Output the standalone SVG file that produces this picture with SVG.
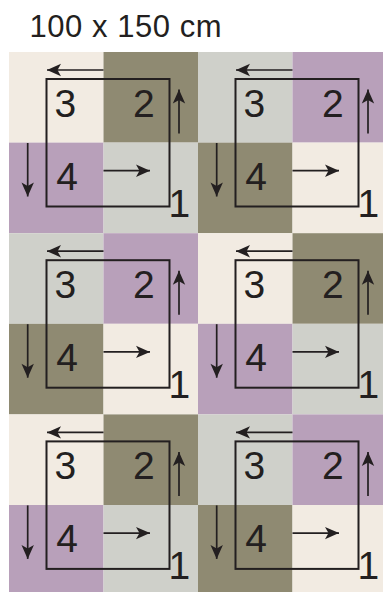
<svg xmlns="http://www.w3.org/2000/svg" width="383" height="592" viewBox="0 0 383 592">
<style>
.cr{fill:#F2EBE2}.ol{fill:#8F8A72}.gr{fill:#CFD0CA}.pu{fill:#B8A0BA}
.sq{fill:none;stroke:#231F20;stroke-width:2}
.num{font-family:"Liberation Sans",Arial,sans-serif;font-size:39px;fill:#231F20}
.title{font-family:"Liberation Sans",Arial,sans-serif;font-size:31px;fill:#231F20}
.arr{fill:none;stroke:#231F20;stroke-width:1.7;marker-end:url(#ah)}
</style>
<defs>
<marker id="ah" markerUnits="userSpaceOnUse" markerWidth="16" markerHeight="14" viewBox="-15 -7 16 14" refX="0" refY="0" orient="auto">
<path d="M0,0 L-14,-6.2 L-10.5,0 L-14,6.2 Z" fill="#231F20"/>
</marker>
<g id="overlay">
<rect class="sq" x="37.5" y="27" width="123" height="127.5"/>
<text class="num" x="45.5" y="64.5">3</text>
<text class="num" x="124" y="64.5">2</text>
<text class="num" x="47.3" y="138">4</text>
<text class="num" x="159.5" y="165">1</text>
</g>
<g id="arrows">
<path class="arr" d="M94.5,18 H38"/>
<path class="arr" d="M170,81.5 V37.5"/>
<path class="arr" d="M18.7,91 V144.5"/>
<path class="arr" d="M94.5,118.7 H141"/>
</g>
</defs>
<text class="title" x="29.5" y="37.3" textLength="192">100 x 150 cm</text>
<g id="block1" transform="translate(9,52)">
<rect class="cr" x="0" y="0" width="94.5" height="90.6"/><rect class="ol" x="94.5" y="0" width="94.5" height="90.6"/>
<rect class="pu" x="0" y="90.6" width="94.5" height="90.6"/><rect class="gr" x="94.5" y="90.6" width="94.5" height="90.6"/>
<use href="#overlay"/>
</g>
<g id="block2" transform="translate(198,52)">
<rect class="gr" x="0" y="0" width="94.5" height="90.6"/><rect class="pu" x="94.5" y="0" width="94.5" height="90.6"/>
<rect class="ol" x="0" y="90.6" width="94.5" height="90.6"/><rect class="cr" x="94.5" y="90.6" width="94.5" height="90.6"/>
<use href="#overlay"/>
</g>
<g id="block3" transform="translate(9,233.2)">
<rect class="gr" x="0" y="0" width="94.5" height="90.6"/><rect class="pu" x="94.5" y="0" width="94.5" height="90.6"/>
<rect class="ol" x="0" y="90.6" width="94.5" height="90.6"/><rect class="cr" x="94.5" y="90.6" width="94.5" height="90.6"/>
<use href="#overlay"/>
</g>
<g id="block4" transform="translate(198,233.2)">
<rect class="cr" x="0" y="0" width="94.5" height="90.6"/><rect class="ol" x="94.5" y="0" width="94.5" height="90.6"/>
<rect class="pu" x="0" y="90.6" width="94.5" height="90.6"/><rect class="gr" x="94.5" y="90.6" width="94.5" height="90.6"/>
<use href="#overlay"/>
</g>
<g id="block5" transform="translate(9,414.4)">
<rect class="cr" x="0" y="0" width="94.5" height="90.6"/><rect class="ol" x="94.5" y="0" width="94.5" height="90.6"/>
<rect class="pu" x="0" y="90.6" width="94.5" height="90.6"/><rect class="gr" x="94.5" y="90.6" width="94.5" height="90.6"/>
<use href="#overlay"/>
</g>
<g id="block6" transform="translate(198,414.4)">
<rect class="gr" x="0" y="0" width="94.5" height="90.6"/><rect class="pu" x="94.5" y="0" width="94.5" height="90.6"/>
<rect class="ol" x="0" y="90.6" width="94.5" height="90.6"/><rect class="cr" x="94.5" y="90.6" width="94.5" height="90.6"/>
<use href="#overlay"/>
</g>
<g id="connectors">
<use href="#arrows" transform="translate(9,52)"/>
<use href="#arrows" transform="translate(198,52)"/>
<use href="#arrows" transform="translate(9,233.2)"/>
<use href="#arrows" transform="translate(198,233.2)"/>
<use href="#arrows" transform="translate(9,414.4)"/>
<use href="#arrows" transform="translate(198,414.4)"/>
</g>
</svg>
